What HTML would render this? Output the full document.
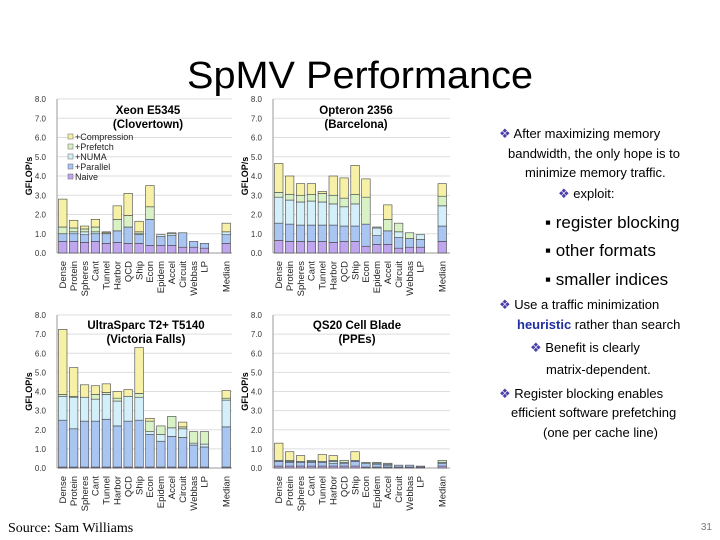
<!DOCTYPE html>
<html><head><meta charset="utf-8"><style>
html,body{margin:0;padding:0;background:#fff;}
svg{display:block;font-family:"Liberation Sans",sans-serif;}
</style></head><body>
<svg id="s" width="720" height="540" viewBox="0 0 720 540">
<text x="360" y="88" text-anchor="middle" font-size="38" textLength="346" lengthAdjust="spacingAndGlyphs" fill="#000">SpMV Performance</text>
<g id="charts"></g>
<g font-size="13" fill="#000">
<text x="499" y="138"><tspan fill="#4a3fa8">❖</tspan> After maximizing memory</text>
<text x="508" y="158">bandwidth, the only hope is to</text>
<text x="525" y="177">minimize memory traffic.</text>
<text x="558" y="198"><tspan fill="#4a3fa8">❖</tspan> exploit:</text>
<text x="545" y="228" font-size="17">▪ register blocking</text>
<text x="545" y="256" font-size="17">▪ other formats</text>
<text x="545" y="285" font-size="17">▪ smaller indices</text>
<text x="499" y="309"><tspan fill="#4a3fa8">❖</tspan> Use a traffic minimization</text>
<text x="517" y="329"><tspan fill="#1f2f9f" font-weight="bold">heuristic</tspan> rather than search</text>
<text x="530" y="352"><tspan fill="#4a3fa8">❖</tspan> Benefit is clearly</text>
<text x="546" y="374">matrix-dependent.</text>
<text x="499" y="398"><tspan fill="#4a3fa8">❖</tspan> Register blocking enables</text>
<text x="511" y="417">efficient software prefetching</text>
<text x="543" y="437">(one per cache line)</text>
</g>
<text x="8" y="532" font-family="Liberation Serif,serif" font-size="14">Source: Sam Williams</text>
<text x="712" y="530" text-anchor="end" font-size="10" fill="#777">31</text>
</svg>
<script>
const categories=["Dense","Protein","Spheres","Cant","Tunnel","Harbor","QCD","Ship","Econ","Epidem","Accel","Circuit","Webbas","LP","Median"];
const seriesNames=["Naive","+Parallel","+NUMA","+Prefetch","+Compression"];
const yTicks=["0.0","1.0","2.0","3.0","4.0","5.0","6.0","7.0","8.0"];
// cumulative totals after each optimization
const xeonNaive=[0.6,0.6,0.55,0.6,0.5,0.55,0.5,0.5,0.4,0.4,0.4,0.3,0.3,0.25,0.5];
const xeonParallel=[1.0,1.0,0.95,1.0,1.0,1.15,1.35,0.95,1.75,0.85,0.9,1.05,0.6,0.5,0.95];
const xeonNuma=[1.0,1.1,1.1,1.1,1.0,1.15,1.35,1.0,1.75,0.95,1.0,1.05,0.6,0.5,1.1];
const xeonPrefetch=[1.35,1.3,1.25,1.35,1.05,1.75,1.95,1.1,2.4,0.95,1.05,1.05,0.6,0.5,1.1];
const xeonCompression=[2.8,1.7,1.4,1.75,1.1,2.45,3.1,1.65,3.5,0.95,1.05,1.05,0.6,0.5,1.55];
const optNaive=[0.65,0.6,0.6,0.6,0.6,0.55,0.6,0.6,0.35,0.45,0.45,0.25,0.3,0.3,0.6];
const optParallel=[1.55,1.5,1.45,1.45,1.45,1.45,1.4,1.4,1.5,0.9,1.15,0.8,0.75,0.7,1.4];
const optNuma=[2.9,2.75,2.65,2.7,2.65,2.55,2.4,2.55,1.5,1.3,1.15,1.1,0.75,0.95,2.45];
const optPrefetch=[3.15,3.05,3.0,3.05,3.1,3.0,2.85,3.05,2.9,1.35,1.75,1.55,1.05,0.95,2.95];
const optCompression=[4.65,4.0,3.6,3.6,3.2,4.0,3.9,4.55,3.85,1.35,2.5,1.55,1.05,0.95,3.6];
const vfNaive=[0.05,0.05,0.05,0.05,0.05,0.05,0.05,0.05,0.05,0.05,0.05,0.05,0.05,0.05,0.05];
const vfParallel=[2.5,2.05,2.45,2.45,2.55,2.2,2.45,2.5,1.75,1.4,1.65,1.6,1.2,1.1,2.15];
const vfNuma=[3.75,3.7,3.7,3.6,3.85,3.5,3.75,3.7,1.9,1.75,2.1,2.05,1.3,1.25,3.55];
const vfPrefetch=[3.85,3.75,3.7,3.85,3.95,3.65,3.75,3.9,2.45,2.2,2.7,2.15,1.9,1.9,3.65];
const vfCompression=[7.25,5.25,4.35,4.3,4.4,4.0,4.1,6.3,2.6,2.2,2.7,2.4,1.9,1.9,4.05];
const cellNaive=[0.1,0.1,0.1,0.1,0.1,0.1,0.1,0.1,0.05,0.05,0.05,0.05,0.05,0.05,0.1];
const cellParallel=[0.35,0.3,0.3,0.3,0.3,0.25,0.25,0.35,0.25,0.2,0.15,0.15,0.15,0.1,0.25];
const cellNuma=[0.4,0.35,0.35,0.35,0.35,0.35,0.3,0.4,0.25,0.25,0.2,0.15,0.15,0.1,0.3];
const cellPrefetch=[0.4,0.4,0.35,0.4,0.35,0.4,0.4,0.4,0.3,0.3,0.25,0.15,0.15,0.1,0.4];
const cellCompression=[1.3,0.85,0.65,0.4,0.7,0.65,0.4,0.85,0.3,0.3,0.25,0.15,0.15,0.1,0.4];

const colors=["#bfa6ee","#a9c5f2","#d2effa","#d8f2c6","#f6f1a6"];
const NS="http://www.w3.org/2000/svg";
const root=document.getElementById('charts');
function mk(tag,attrs,parent){const e=document.createElementNS(NS,tag);for(const k in attrs)e.setAttribute(k,attrs[k]);parent.appendChild(e);return e;}

const charts=[
 {key:"xeon",t1:"Xeon E5345",t2:"(Clovertown)",ax:57,right:232,y0:253,y8:99,tx:148,ty:114,data:[xeonNaive,xeonParallel,xeonNuma,xeonPrefetch,xeonCompression],legend:true},
 {key:"opteron",t1:"Opteron 2356",t2:"(Barcelona)",ax:273,right:450,y0:253,y8:99,tx:356,ty:114,data:[optNaive,optParallel,optNuma,optPrefetch,optCompression]},
 {key:"victoria-falls",t1:"UltraSparc T2+ T5140",t2:"(Victoria Falls)",ax:57,right:232,y0:468,y8:315,tx:146,ty:329,data:[vfNaive,vfParallel,vfNuma,vfPrefetch,vfCompression]},
 {key:"cell",t1:"QS20 Cell Blade",t2:"(PPEs)",ax:273,right:450,y0:468,y8:315,tx:357,ty:329,data:[cellNaive,cellParallel,cellNuma,cellPrefetch,cellCompression]}
];

charts.forEach(c=>{
 const g=mk('g',{},root);
 
 
 const y=v=>c.y0-(v/8)*(c.y0-c.y8);
 const pitch=10.9;
 const x=i=>c.ax+1.5+(i<14?i:15)*pitch;
 yTicks.forEach((t,i)=>{
  const v=parseFloat(t);
  const gl=mk('line',{x1:c.ax,x2:c.right,y1:y(v),y2:y(v),stroke:i==0?'#999':'#ddd','stroke-width':1},g);
  
  
  const tl=mk('text',{x:c.ax-11,y:y(v)+3,'text-anchor':'end','font-size':8,fill:'#333'},g);
  tl.textContent=t;
  
  
 });
 mk('line',{x1:c.ax,x2:c.ax,y1:c.y8,y2:c.y0,stroke:'#999'},g);
 const yt=mk('text',{x:0,y:0,transform:`translate(${c.ax-25},${(c.y0+c.y8)/2}) rotate(-90)`,'text-anchor':'middle','font-size':9,'font-weight':'bold'},g);
 yt.textContent="GFLOP/s";
 
 
 [c.t1,c.t2].forEach((t,i)=>{
  const tt=mk('text',{x:c.tx,y:c.ty+i*14,'text-anchor':'middle','font-size':11.5,'font-weight':'bold'},g);
  tt.textContent=t;
  
  
 });
 categories.forEach((cat,i)=>{
  let prev=0;
  for(let s=0;s<5;s++){
   const v=c.data[s][i];
   if(v>prev){
    const r=mk('rect',{x:x(i),y:y(v),width:8.5,height:y(prev)-y(v),fill:colors[s],stroke:'#444','stroke-width':0.6},g);
    
    
    prev=v;
   }
  }
  const cl=mk('text',{x:0,y:0,transform:`translate(${x(i)+7.5},${c.y0+8}) rotate(-90)`,'text-anchor':'end','font-size':9.5,fill:'#222'},g);
  cl.textContent=cat;
  
  
 });
 if(c.legend){
  for(let s=4;s>=0;s--){
   const ly=140+(4-s)*10;
   const lr=mk('rect',{x:68,y:ly-6,width:5,height:5,fill:colors[s],stroke:'#666','stroke-width':0.5},g);
   
   
   const lt=mk('text',{x:75,y:ly,'font-size':9,fill:'#222'},g);
   lt.textContent=seriesNames[s];
   
   
  }
 }
});
</script>
</body></html>
